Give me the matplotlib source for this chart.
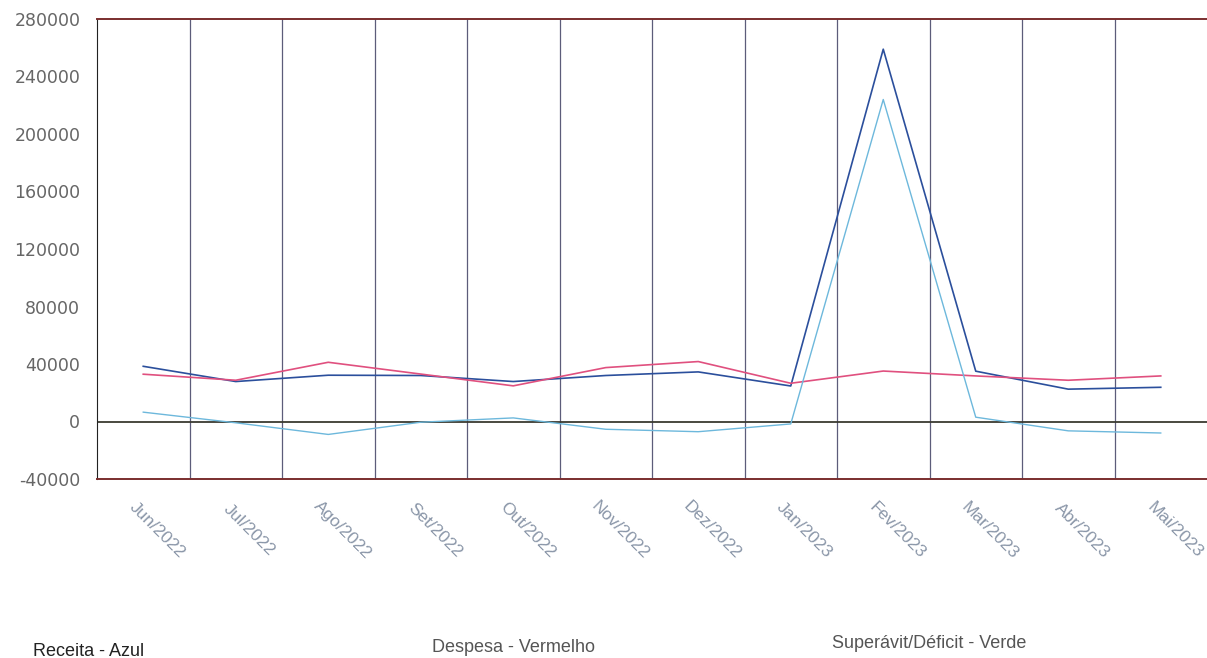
import numpy as np
import matplotlib
matplotlib.use("Agg")
import matplotlib.pyplot as plt

# Monthly figures
months = ["Jun/2022", "Jul/2022", "Ago/2022", "Set/2022", "Out/2022", "Nov/2022",
          "Dez/2022", "Jan/2023", "Fev/2023", "Mar/2023", "Abr/2023", "Mai/2023"]
receita = [38400, 27800, 32200, 32000, 27800, 32000, 34500, 24700, 259000, 35000, 22500, 23800]
despesa = [32900, 28700, 41200, 33000, 24800, 37500, 41700, 26600, 35100, 31700, 28700, 31700]
superavit = [6500, -900, -9000, -500, 2500, -5400, -7100, -1700, 224000, 3000, -6500, -8000]
y_ticks = [-40000, 0, 40000, 80000, 120000, 160000, 200000, 240000, 280000]

plt.rcParams['font.family'] = ['Liberation Sans', 'DejaVu Sans']

fig = plt.figure(figsize=(12.07, 6.58), dpi=100)
ax = fig.add_axes([97 / 1207, (658 - 479) / 658, 1 - 97 / 1207, 460 / 658])

x = np.arange(len(months))
ax.plot(x, receita, color='#2b4f9c', lw=1.2)
ax.plot(x, despesa, color='#e0507f', lw=1.2)
ax.plot(x, superavit, color='#6db8dc', lw=1.0)

ax.set_xlim(-0.5, len(months) - 0.5)
ax.set_ylim(-40000, 280000)

# vertical separators between months and the zero line
for g in x[:-1] + 0.5:
    ax.axvline(g, color='#5c5c7a', lw=0.9, zorder=0)
ax.axhline(0, color='#3a3a30', lw=1.3, zorder=0)

ax.spines['top'].set_color('#7a2e2e')
ax.spines['bottom'].set_color('#7a2e2e')
ax.spines['top'].set_linewidth(1.4)
ax.spines['bottom'].set_linewidth(1.4)
ax.spines['left'].set_color('#222222')
ax.spines['right'].set_visible(False)

ax.set_yticks(y_ticks)
ax.set_yticklabels([str(v) for v in y_ticks], family='DejaVu Sans')
ax.tick_params(axis='y', length=0, pad=12, labelsize=12.5, labelcolor='#666666')
ax.set_xticks([])

for i, m in enumerate(months):
    ax.annotate(m, xy=(i, 0), xycoords=('data', 'axes fraction'),
                xytext=(10, -37), textcoords='offset points',
                ha='center', va='center', rotation=-45,
                fontsize=12.5, color='#8a96a8')

fig.text(33 / 1207, 1 - 651 / 658, "Receita - Azul", fontsize=13, color='#222222',
         va='center', ha='left')
fig.text(432 / 1207, 1 - 648 / 658, "Despesa - Vermelho", fontsize=13, color='#555555',
         va='center', ha='left')
fig.text(832 / 1207, 1 - 644 / 658, "Superávit/Déficit - Verde", fontsize=13, color='#555555',
         va='center', ha='left')

fig.savefig("out.png", dpi=100)
